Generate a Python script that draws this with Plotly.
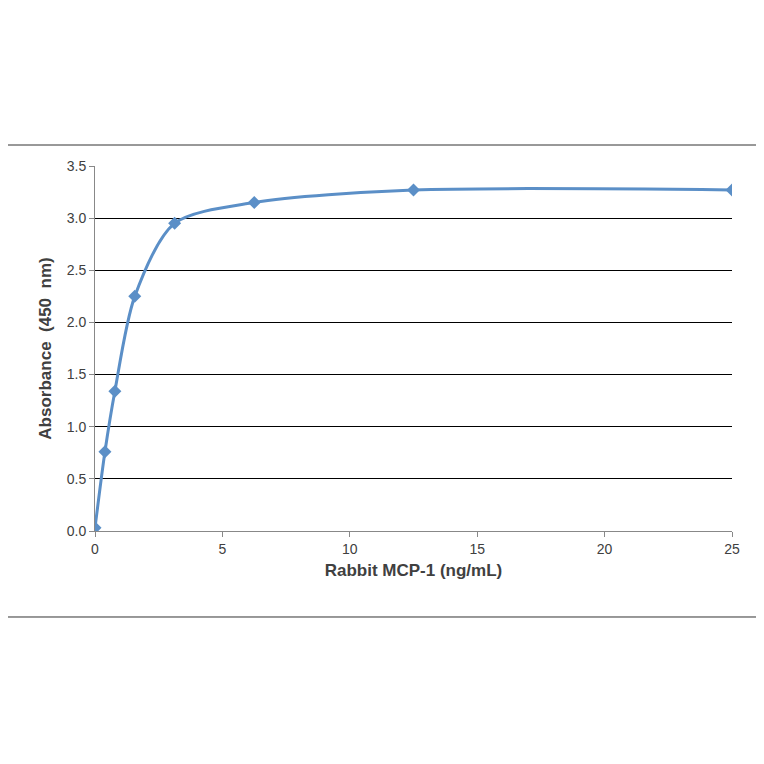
import plotly.graph_objects as go

conc = [0, 0.39, 0.78, 1.56, 3.125, 6.25, 12.5, 25]
absorb = [0.03, 0.76, 1.34, 2.25, 2.95, 3.15, 3.27, 3.27]

fig = go.Figure(go.Scatter(
    x=conc, y=absorb, mode="lines+markers",
    line=dict(shape="spline", smoothing=0.8, color="#5B8FC7", width=3),
    marker=dict(symbol="diamond", size=10, color="#5B8FC7"),
))
fig.update_layout(
    width=748, height=748, paper_bgcolor="white", plot_bgcolor="white",
    margin=dict(l=87, r=24, t=158, b=225), showlegend=False,
    font=dict(family="Liberation Sans, Arial", size=14, color="#404040"),
    xaxis=dict(range=[0, 25], tickvals=[0, 5, 10, 15, 20, 25], showgrid=False,
               showline=True, linecolor="#888", ticks="outside", ticklen=5, tickcolor="#888",
               title=dict(text="<b>Rabbit MCP-1 (ng/mL)</b>", standoff=8), zeroline=False),
    yaxis=dict(range=[0, 3.5], tickvals=[0, 0.5, 1, 1.5, 2, 2.5, 3, 3.5], tickformat=".1f",
               showgrid=True, gridcolor="#000", gridwidth=1, showline=True, linecolor="#888",
               ticks="outside", ticklen=5, tickcolor="#888", zeroline=False,
               title=dict(text="<b>Absorbance  (450  nm)</b>", standoff=10)),
    shapes=[dict(type="rect", xref="paper", yref="paper", x0=-0.146, x1=1.047,
                 y0=-0.2356, y1=1.0575, line=dict(color="#333", width=1))],
)
fig.write_html("out.html")
